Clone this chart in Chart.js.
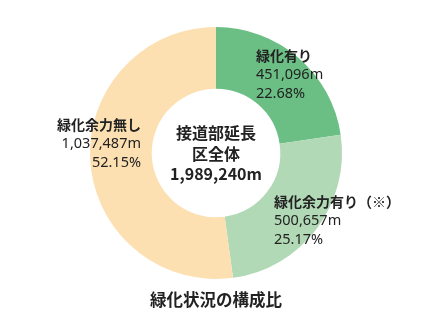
<!DOCTYPE html>
<html lang="ja">
<head>
<meta charset="utf-8">
<script src="https://cdn.jsdelivr.net/npm/chart.js@4/dist/chart.umd.min.js"></script>
<style>
  html, body { margin: 0; padding: 0; background: #fff; }
  #wrap { width: 432px; height: 326px; position: relative; }
</style>
</head>
<body>
<div id="wrap"><canvas id="chart" width="432" height="326"></canvas></div>
<script>
// ===== DATA =====
const categories = ['緑化有り', '緑化余力有り（※）', '緑化余力無し'];
const lengths = [451096, 500657, 1037487];          // m
const shares = ['22.68%', '25.17%', '52.15%'];
const totalLabel = ['接道部延長', '区全体', '1,989,240m'];
const title = '緑化状況の構成比';

const colors = ['#6bbf84', '#b1d9b6', '#fde0b1'];
const FONT = '"Noto Sans CJK JP", "Noto Sans", sans-serif';
const NUM_FONT = '"Noto Sans", "Noto Sans CJK JP", sans-serif';

// label block anchors: [x, y of first line, align]
const labelPos = [
    [256, 56, 'left'],
    [274, 202, 'left'],
    [141, 125, 'right']
];

const fmt = v => v.toLocaleString('en-US') + 'm';

const labelsPlugin = {
    id: 'sliceLabels',
    afterDraw(chart) {
        const ctx = chart.ctx;
        const arc = chart.getDatasetMeta(0).data[0];
        const cx = arc.x, cy = arc.y;
        ctx.save();
        ctx.fillStyle = '#222';
        ctx.textBaseline = 'middle';

        // slice labels
        categories.forEach((name, i) => {
            const [x, y, align] = labelPos[i];
            ctx.textAlign = align;
            ctx.font = 'bold 14px ' + FONT;
            ctx.fillText(name, x, y);
            ctx.font = '14.5px ' + NUM_FONT;
            ctx.fillText(fmt(lengths[i]), x, y + 19);
            ctx.fillText(shares[i], x, y + 38);
        });

        // centre total
        ctx.textAlign = 'center';
        ctx.font = 'bold 16px ' + FONT;
        totalLabel.forEach((t, i) => ctx.fillText(t, cx, cy - 20 + i * 20.5));

        // title below
        ctx.font = 'bold 16.5px ' + FONT;
        ctx.fillText(title, cx, 300);
        ctx.restore();
    }
};

new Chart(document.getElementById('chart'), {
    type: 'doughnut',
    data: {
        labels: categories,
        datasets: [{
            data: lengths,
            backgroundColor: colors,
            borderWidth: 0
        }]
    },
    options: {
        responsive: false,
        animation: false,
        cutout: '51%',
        layout: { padding: { top: 27, bottom: 47, left: 90, right: 90 } },
        plugins: {
            legend: { display: false },
            tooltip: { enabled: false }
        }
    },
    plugins: [labelsPlugin]
});
</script>
</body>
</html>
